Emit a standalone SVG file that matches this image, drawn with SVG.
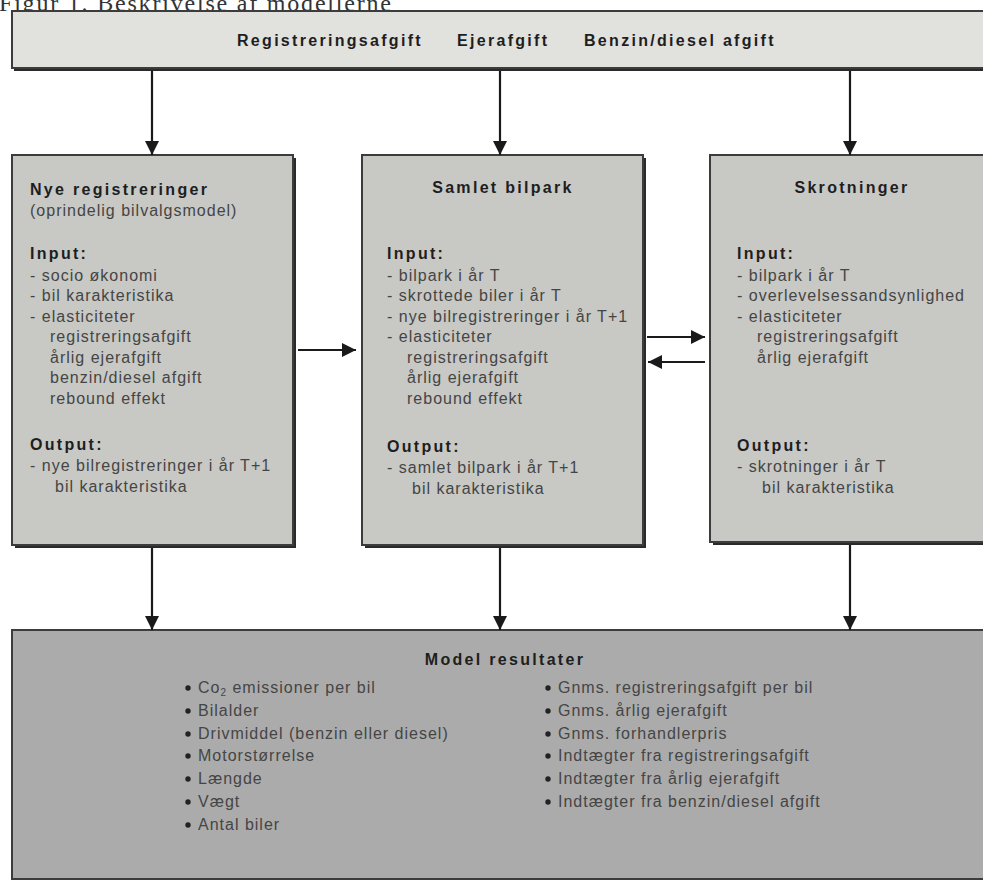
<svg xmlns="http://www.w3.org/2000/svg" width="983" height="881" viewBox="0 0 983 881">
<style>
.bg{fill:#ffffff}
.shadow{fill:#2a2a2a}
.box{stroke:#3c3c3c;stroke-width:2}
.top{fill:#e1e1dd}
.mid{fill:#c8c8c4}
.res{fill:#ababab}
.title{font-family:"Liberation Serif","Times New Roman",serif;font-size:24px;letter-spacing:1.8px;fill:#333}
.h{font-family:"Liberation Sans",Arial,sans-serif;font-weight:bold;font-size:16px;letter-spacing:2.3px;fill:#1e1e1e}
.t{font-family:"Liberation Sans",Arial,sans-serif;font-size:16px;letter-spacing:1px;fill:#454545}
.conn line{stroke:#1a1a1a;stroke-width:2.2}
.dot{fill:#222}
</style>
<defs>
<marker id="arr" viewBox="0 0 10 10" refX="10" refY="5" markerWidth="14" markerHeight="14" markerUnits="userSpaceOnUse" orient="auto">
<path d="M0,0 L10,5 L0,10 z" fill="#1a1a1a"/>
</marker>
</defs>
<rect class="bg" x="0" y="0" width="983" height="881"/>
<text class="title" x="-1" y="11">Figur 1. Beskrivelse af modellerne</text>

<g id="taxes">
<rect class="shadow" x="14" y="13" width="980" height="58"/>
<rect class="box top" x="12" y="11" width="980" height="57"/>
<text class="h" x="237" y="46">Registreringsafgift</text>
<text class="h" x="457" y="46">Ejerafgift</text>
<text class="h" x="584" y="46">Benzin/diesel afgift</text>
</g>

<g id="nye">
<rect class="shadow" x="15" y="158" width="281" height="390"/>
<rect class="box mid" x="12" y="155" width="281" height="390"/>
<text class="h" x="30" y="195">Nye registreringer</text>
<text class="t" x="30" y="216">(oprindelig bilvalgsmodel)</text>
<text class="h" x="30" y="259">Input:</text>
<text class="t" x="30" y="281">- socio økonomi</text>
<text class="t" x="30" y="301">- bil karakteristika</text>
<text class="t" x="30" y="322">- elasticiteter</text>
<text class="t" x="50" y="342">registreringsafgift</text>
<text class="t" x="50" y="363">årlig ejerafgift</text>
<text class="t" x="50" y="383">benzin/diesel afgift</text>
<text class="t" x="50" y="404">rebound effekt</text>
<text class="h" x="30" y="450">Output:</text>
<text class="t" x="30" y="471">- nye bilregistreringer i år T+1</text>
<text class="t" x="55" y="492">bil karakteristika</text>
</g>

<g id="samlet">
<rect class="shadow" x="365" y="158" width="281" height="390"/>
<rect class="box mid" x="362" y="155" width="281" height="390"/>
<text class="h" x="503" y="193" text-anchor="middle">Samlet bilpark</text>
<text class="h" x="387" y="259">Input:</text>
<text class="t" x="387" y="281">- bilpark i år T</text>
<text class="t" x="387" y="301">- skrottede biler i år T</text>
<text class="t" x="387" y="322">- nye bilregistreringer i år T+1</text>
<text class="t" x="387" y="342">- elasticiteter</text>
<text class="t" x="407" y="363">registreringsafgift</text>
<text class="t" x="407" y="383">årlig ejerafgift</text>
<text class="t" x="407" y="404">rebound effekt</text>
<text class="h" x="387" y="452">Output:</text>
<text class="t" x="387" y="473">- samlet bilpark i år T+1</text>
<text class="t" x="412" y="494">bil karakteristika</text>
</g>

<g id="skrot">
<rect class="shadow" x="713" y="158" width="290" height="387"/>
<rect class="box mid" x="710" y="155" width="290" height="387"/>
<text class="h" x="852" y="193" text-anchor="middle">Skrotninger</text>
<text class="h" x="737" y="259">Input:</text>
<text class="t" x="737" y="281">- bilpark i år T</text>
<text class="t" x="737" y="301">- overlevelsessandsynlighed</text>
<text class="t" x="737" y="322">- elasticiteter</text>
<text class="t" x="757" y="342">registreringsafgift</text>
<text class="t" x="757" y="363">årlig ejerafgift</text>
<text class="h" x="737" y="451">Output:</text>
<text class="t" x="737" y="472">- skrotninger i år T</text>
<text class="t" x="762" y="493">bil karakteristika</text>
</g>

<g id="resultater">
<rect class="box res" x="12" y="630" width="990" height="249"/>
<text class="h" x="505" y="665" text-anchor="middle">Model resultater</text>
<circle class="dot" cx="188" cy="688" r="2.7"/>
<text class="t" x="198" y="693">Co<tspan font-size="10" dy="3">2</tspan><tspan dy="-3"> emissioner per bil</tspan></text>
<circle class="dot" cx="188" cy="711" r="2.7"/>
<text class="t" x="198" y="716">Bilalder</text>
<circle class="dot" cx="188" cy="734" r="2.7"/>
<text class="t" x="198" y="739">Drivmiddel (benzin eller diesel)</text>
<circle class="dot" cx="188" cy="756" r="2.7"/>
<text class="t" x="198" y="761">Motorstørrelse</text>
<circle class="dot" cx="188" cy="779" r="2.7"/>
<text class="t" x="198" y="784">Længde</text>
<circle class="dot" cx="188" cy="802" r="2.7"/>
<text class="t" x="198" y="807">Vægt</text>
<circle class="dot" cx="188" cy="825" r="2.7"/>
<text class="t" x="198" y="830">Antal biler</text>
<circle class="dot" cx="548" cy="688" r="2.7"/>
<text class="t" x="558" y="693">Gnms. registreringsafgift per bil</text>
<circle class="dot" cx="548" cy="711" r="2.7"/>
<text class="t" x="558" y="716">Gnms. årlig ejerafgift</text>
<circle class="dot" cx="548" cy="734" r="2.7"/>
<text class="t" x="558" y="739">Gnms. forhandlerpris</text>
<circle class="dot" cx="548" cy="756" r="2.7"/>
<text class="t" x="558" y="761">Indtægter fra registreringsafgift</text>
<circle class="dot" cx="548" cy="779" r="2.7"/>
<text class="t" x="558" y="784">Indtægter fra årlig ejerafgift</text>
<circle class="dot" cx="548" cy="802" r="2.7"/>
<text class="t" x="558" y="807">Indtægter fra benzin/diesel afgift</text>
</g>

<g class="conn" id="connectors">
<line x1="152" y1="71" x2="152" y2="155" marker-end="url(#arr)"/>
<line x1="500" y1="71" x2="500" y2="155" marker-end="url(#arr)"/>
<line x1="850" y1="71" x2="850" y2="155" marker-end="url(#arr)"/>
<line x1="298" y1="350" x2="356" y2="350" marker-end="url(#arr)"/>
<line x1="647" y1="337" x2="705" y2="337" marker-end="url(#arr)"/>
<line x1="705" y1="362" x2="648" y2="362" marker-end="url(#arr)"/>
<line x1="152" y1="548" x2="152" y2="630" marker-end="url(#arr)"/>
<line x1="500" y1="548" x2="500" y2="630" marker-end="url(#arr)"/>
<line x1="850" y1="545" x2="850" y2="630" marker-end="url(#arr)"/>
</g>
</svg>
